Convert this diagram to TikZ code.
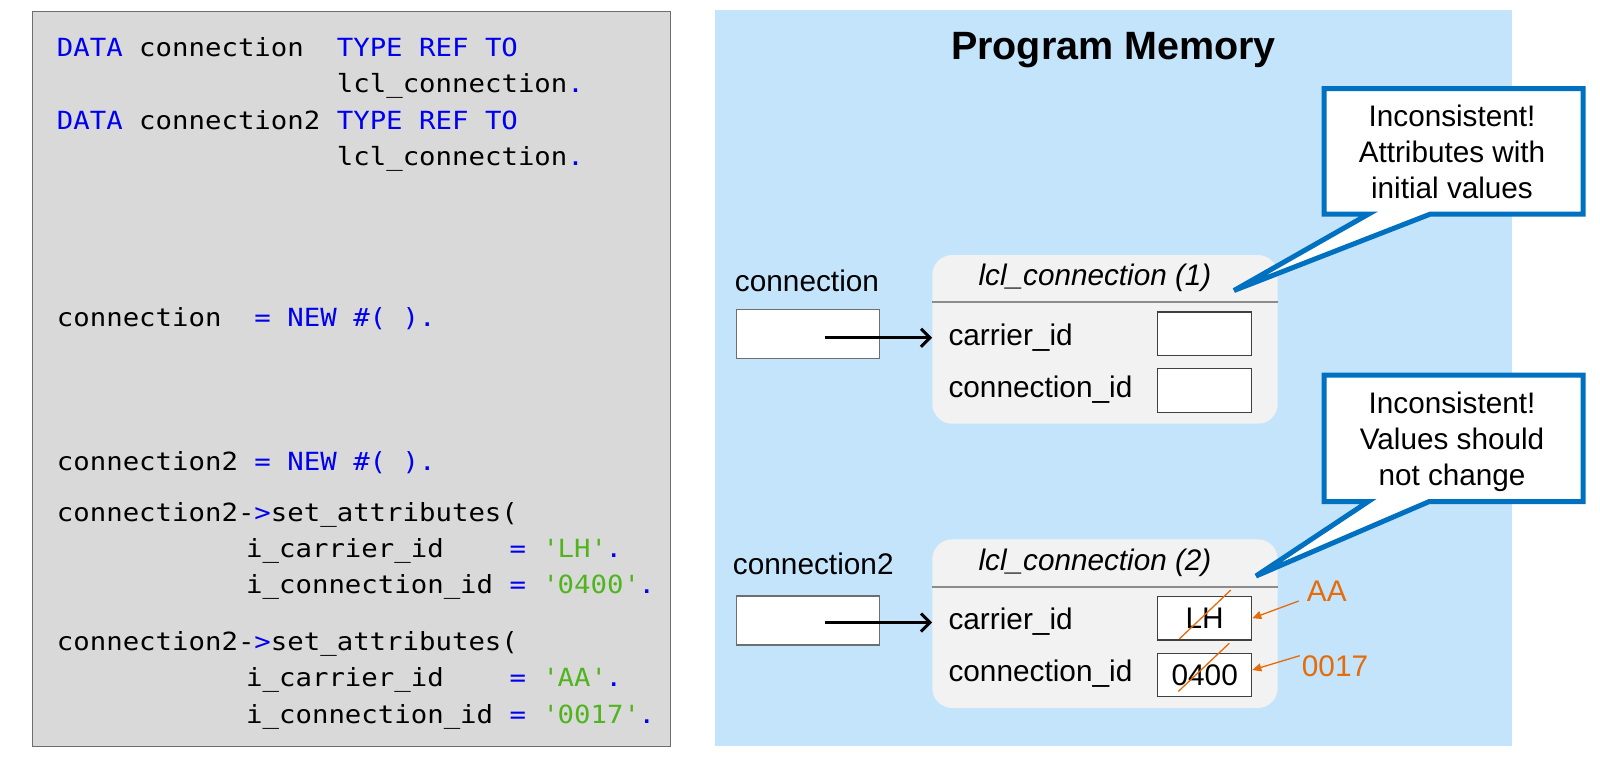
\documentclass[tikz,border=0pt]{standalone}
\usepackage{fontspec}
\setmainfont{Liberation Sans}
\newfontfamily\codefont{DejaVu Sans Mono}[FakeStretch=1.094,Ligatures=TeXOff]
\usetikzlibrary{arrows.meta,calc}
\definecolor{kwblue}{RGB}{0,0,240}
\definecolor{strgreen}{RGB}{80,180,30}
\definecolor{codebg}{RGB}{217,217,217}
\definecolor{codeborder}{RGB}{110,110,110}
\definecolor{membg}{RGB}{196,228,252}
\definecolor{objbg}{RGB}{242,242,242}
\definecolor{sepgray}{RGB}{140,140,140}
\definecolor{callblue}{RGB}{0,112,192}
\definecolor{chgorange}{RGB}{228,108,10}
\newcommand\kw[1]{\textcolor{kwblue}{#1}}
\newcommand\strlit[1]{\textcolor{strgreen}{#1}}
\newcommand\qq{\textquotesingle}
\tikzset{
  codeline/.style={anchor=base west, inner sep=0, font=\codefont\fontsize{25}{30}\selectfont},
  sanslabel/.style={anchor=base west, inner sep=0, font=\fontsize{29.8}{36}\selectfont},
  refbox/.style={draw=codeborder, fill=white, line width=1.2, minimum width=143, minimum height=49, inner sep=0},
  valbox/.style={draw=black!75, fill=white, line width=1.2, minimum width=94, minimum height=43.7, inner sep=0, font=\fontsize{29.8}{36}\selectfont},
  objbox/.style={fill=objbg, rounded corners=20, minimum width=345.4, minimum height=168.7, inner sep=0},
  objtitle/.style={anchor=base, inner sep=0, font=\itshape\fontsize{29.7}{36}\selectfont},
  sepline/.style={draw=sepgray, line width=2},
  ptrarrow/.style={line width=3, -{Straight Barb[length=9,width=18]}},
  chgarrow/.style={draw=chgorange, line width=1.3, -{Triangle[length=9,width=8]}},
  strike/.style={draw=chgorange, line width=1.3},
  chglabel/.style={anchor=base west, inner sep=0, text=chgorange, font=\fontsize{29.8}{36}\selectfont},
  callout/.style={draw=callblue, fill=white, line width=5},
  calltext/.style={align=center, anchor=base, inner sep=0, font=\fontsize{29.7}{36}\selectfont}
}
\begin{document}
\begin{tikzpicture}[x=1pt,y=-1pt]
\useasboundingbox (0,0) rectangle (1600,758);
% code panel
\node[draw=codeborder, fill=codebg, line width=1.5, minimum width=638, minimum height=735, inner sep=0] (codebox) at (351.7,379.2) {};
\node[codeline] (c1) at (56.7,56.7) {\kw{DATA} connection\ \ \kw{TYPE REF TO}};
\node[codeline] (c2) at (336.7,92.5) {lcl\_connection\kw{.}};
\node[codeline] (c3) at (56.7,129) {\kw{DATA} connection2 \kw{TYPE REF TO}};
\node[codeline] (c4) at (336.7,165.2) {lcl\_connection\kw{.}};
\node[codeline] (c5) at (56.7,326.7) {connection\ \ \kw{= NEW \#( ).}};
\node[codeline] (c6) at (56.7,470.7) {connection2 \kw{= NEW \#( ).}};
\node[codeline] (c7) at (56.7,521) {connection2-\kw{>}set\_attributes(};
\node[codeline] (c8) at (246,557.2) {i\_carrier\_id\ \ \ \ \kw{=} \strlit{\qq LH\qq}\kw{.}};
\node[codeline] (c9) at (246,593.4) {i\_connection\_id \kw{=} \strlit{\qq 0400\qq}\kw{.}};
\node[codeline] (c10) at (56.7,650) {connection2-\kw{>}set\_attributes(};
\node[codeline] (c11) at (246,686.7) {i\_carrier\_id\ \ \ \ \kw{=} \strlit{\qq AA\qq}\kw{.}};
\node[codeline] (c12) at (246,723.3) {i\_connection\_id \kw{=} \strlit{\qq 0017\qq}\kw{.}};
% memory panel
\node[fill=membg, minimum width=797, minimum height=736, inner sep=0] (mem) at (1113.5,378) {};
\node[anchor=base, inner sep=0, font=\bfseries\fontsize{39.5}{44}\selectfont] (title) at (1113.5,59) {Program Memory};
% references
\node[sanslabel] (lconn) at (734.7,291) {connection};
\node[sanslabel] (lconn2) at (732.7,574.5) {connection2};
\node[refbox] (r1) at (808.2,333.7) {};
\node[refbox] (r2) at (808.2,620.5) {};
% objects
\node[objbox] (o1) at (1105,339.35) {};
\node[objbox] (o2) at (1105,623.65) {};
\draw[sepline] ($(o1.north west)+(0,47.4)$) -- ($(o1.north east)+(0,47.4)$);
\draw[sepline] ($(o2.north west)+(0,47.4)$) -- ($(o2.north east)+(0,47.4)$);
\node[objtitle] (t1) at (1095,285.7) {lcl\_connection (1)};
\node[objtitle] (t2) at (1095,570) {lcl\_connection (2)};
\node[sanslabel] (a1c) at (948.3,345) {carrier\_id};
\node[sanslabel] (a1n) at (948.3,397.4) {connection\_id};
\node[sanslabel] (a2c) at (948.3,629.3) {carrier\_id};
\node[sanslabel] (a2n) at (948.3,681.7) {connection\_id};
\node[valbox] (v1a) at (1204.7,333.9) {};
\node[valbox] (v1b) at (1204.7,390.7) {};
\node[valbox] (v2a) at (1204.7,618.2) {LH};
\node[valbox] (v2b) at (1204.7,675) {0400};
% pointer arrows
\coordinate (s1) at (824.5,337.8);
\coordinate (s2) at (824.5,622.5);
\draw[ptrarrow] (s1) -- (s1 -| o1.west);
\draw[ptrarrow] (s2) -- (s2 -| o2.west);
% changes
\draw[strike] ($(v2a.south)+(-25.4,-1.7)$) -- ($(v2a.north)+(26,-5.6)$);
\draw[strike] ($(v2b.south)+(-26.4,-6)$) -- ($(v2b.north)+(24.6,-9.3)$);
\node[chglabel] (newaa) at (1306.7,601) {AA};
\node[chglabel] (new17) at (1301.7,676.7) {0017};
\draw[chgarrow] ($(newaa.base west)+(-8,0)$) -- (v2a.east);
\draw[chgarrow] ($(new17.north west)+(-2,0)$) -- ($(v2b.east)+(0,-5)$);
% callouts
\draw[callout] (1324.2,88.5) -- (1583.2,88.5) -- (1583.2,214.2) -- (1430,214.2) -- (1234,290.5) -- (1368.3,214.2) -- (1324.2,214.2) -- cycle;
\node[calltext] (call1) at (1452,198.3) {Inconsistent!\\Attributes with\\initial values};
\draw[callout] (1324.2,375.2) -- (1583.2,375.2) -- (1583.2,501.5) -- (1429.3,501.5) -- (1256,576) -- (1368.3,501.5) -- (1324.2,501.5) -- cycle;
\node[calltext] (call2) at (1452,485) {Inconsistent!\\Values should\\not change};
\end{tikzpicture}
\end{document}
